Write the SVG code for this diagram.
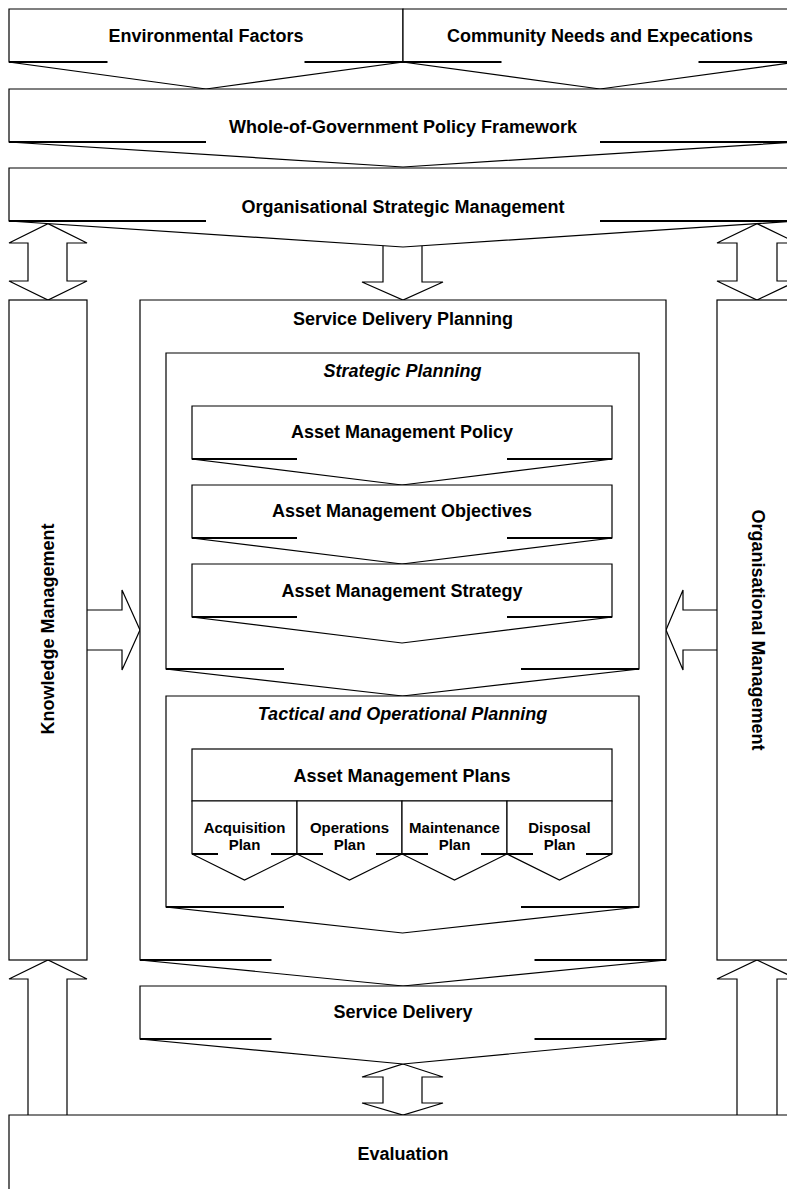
<svg xmlns="http://www.w3.org/2000/svg" width="787" height="1189" viewBox="0 0 787 1189">
<style>
.s{fill:#fff;stroke:#000;stroke-width:1.2;stroke-linejoin:miter}
.k{fill:none;stroke:#000;stroke-width:2.2}
text{font-family:"Liberation Sans",Arial,sans-serif;font-weight:bold;font-size:18px;text-anchor:middle;fill:#000}
.i{font-style:italic}
.sm{font-size:15px}
</style>
<rect width="787" height="1189" fill="#fff"/>
<g id="connectors">
<path class="s" d="M48 223.6 L87 243 H67 V281 H87 L48 300 L9 281 H28 V243 H9 Z"/>
<path class="s" d="M757 223.6 L797 243 H777 V281 H797 L757 300 L717 281 H737 V243 H717 Z"/>
<path class="s" d="M383 245.7 V282 H362 L403 300 L443 282 H422 V245.7"/>
<path class="s" d="M87 610 H122 V590 L140 630 L122 670 V650 H87"/>
<path class="s" d="M717 610 H683 V590 L666 630 L683 670 V650 H717"/>
<path class="s" d="M28 1115 V979 H9 L48 960 L87 979 H67 V1115"/>
<path class="s" d="M737 1115 V979 H717 L757 960 L797 979 H777 V1115"/>
<path class="s" d="M403 1064 L443 1077 H422 V1103 H443 L403 1115 L362 1103 H383 V1077 H362 Z"/>
</g>
<g id="env">
<path class="s" d="M9 62 V9 H403 V62 L206 89 Z"/>
<path class="k" d="M9 62 H107.5 M304.5 62 H403"/>
<text x="206" y="42">Environmental Factors</text>
</g>
<g id="community">
<path class="s" d="M403 62 V9 H797 V62 L600 89 Z"/>
<path class="k" d="M403 62 H501.5 M698.5 62 H797"/>
<text x="600" y="42">Community Needs and Expecations</text>
</g>
<g id="whole">
<path class="s" d="M9 142 V89 H797 V142 L403 167 Z"/>
<path class="k" d="M9 142 H206 M600 142 H797"/>
<text x="403" y="133">Whole-of-Government Policy Framework</text>
</g>
<g id="orgstrat">
<path class="s" d="M9 221 V168 H797 V221 L403 247 Z"/>
<path class="k" d="M9 221 H206 M600 221 H797"/>
<text x="403" y="212.5">Organisational Strategic Management</text>
</g>
<g id="knowledge">
<rect class="s" x="9" y="300" width="78" height="660"/>
<text transform="translate(53.5,629) rotate(-90)">Knowledge Management</text>
</g>
<g id="orgmgmt">
<rect class="s" x="717" y="300" width="80" height="660"/>
<text transform="translate(751.5,630) rotate(90)">Organisational Management</text>
</g>
<g id="sdp">
<path class="s" d="M140 960 V300 H666 V960 L403 986 Z"/>
<path class="k" d="M140 960 H271.5 M534.5 960 H666"/>
<text x="403" y="325">Service Delivery Planning</text>
</g>
<g id="strategic">
<path class="s" d="M166 669 V353 H639 V669 L402.5 696 Z"/>
<path class="k" d="M166 669 H284 M521 669 H639"/>
<text class="i" x="402.5" y="377">Strategic Planning</text>
</g>
<g id="policy">
<path class="s" d="M192 459 V406 H612 V459 L402 485 Z"/>
<path class="k" d="M192 459 H297 M507 459 H612"/>
<text x="402" y="438">Asset Management Policy</text>
</g>
<g id="objectives">
<path class="s" d="M192 538 V485 H612 V538 L402 564 Z"/>
<path class="k" d="M192 538 H297 M507 538 H612"/>
<text x="402" y="517">Asset Management Objectives</text>
</g>
<g id="strategy">
<path class="s" d="M192 617 V564 H612 V617 L402 643 Z"/>
<path class="k" d="M192 617 H297 M507 617 H612"/>
<text x="402" y="597">Asset Management Strategy</text>
</g>
<g id="tactical">
<path class="s" d="M166 907 V696 H639 V907 L402.5 933 Z"/>
<path class="k" d="M166 907 H284 M521 907 H639"/>
<text class="i" x="402.5" y="720">Tactical and Operational Planning</text>
</g>
<g id="amplans">
<rect class="s" x="192" y="749" width="420" height="52"/>
<text x="402" y="782">Asset Management Plans</text>
</g>
<g id="acquisition">
<path class="s" d="M192 854 V801 H297 V854 L244.5 880 Z"/>
<path class="k" d="M192 854 H218 M271 854 H297"/>
<text class="sm" x="244.5" y="833">Acquisition</text>
<text class="sm" x="244.5" y="850">Plan</text>
</g>
<g id="operations">
<path class="s" d="M297 854 V801 H402 V854 L349.5 880 Z"/>
<path class="k" d="M297 854 H323 M376 854 H402"/>
<text class="sm" x="349.5" y="833">Operations</text>
<text class="sm" x="349.5" y="850">Plan</text>
</g>
<g id="maintenance">
<path class="s" d="M402 854 V801 H507 V854 L454.5 880 Z"/>
<path class="k" d="M402 854 H428 M481 854 H507"/>
<text class="sm" x="454.5" y="833">Maintenance</text>
<text class="sm" x="454.5" y="850">Plan</text>
</g>
<g id="disposal">
<path class="s" d="M507 854 V801 H612 V854 L559.5 880 Z"/>
<path class="k" d="M507 854 H533 M586 854 H612"/>
<text class="sm" x="559.5" y="833">Disposal</text>
<text class="sm" x="559.5" y="850">Plan</text>
</g>
<g id="servicedelivery">
<path class="s" d="M140 1039 V986 H666 V1039 L403 1064 Z"/>
<path class="k" d="M140 1039 H271.5 M534.5 1039 H666"/>
<text x="403" y="1018">Service Delivery</text>
</g>
<g id="evaluation">
<path class="s" d="M9 1200 V1115 H800 V1200"/>
<text x="403" y="1160">Evaluation</text>
</g>
</svg>
